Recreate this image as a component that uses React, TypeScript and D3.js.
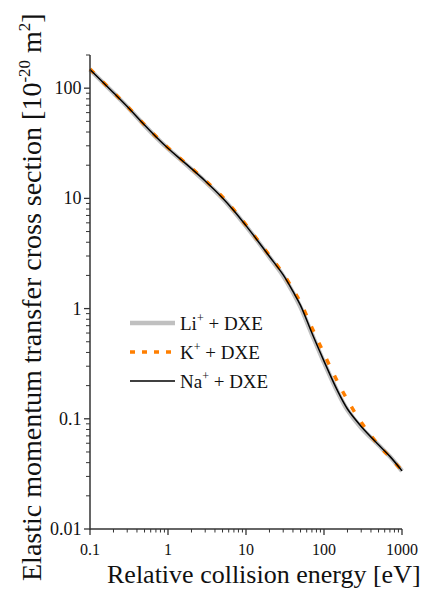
import React from "react";
import * as d3 from "d3";

const energies = [0.1, 0.2, 0.3, 0.5, 0.7, 1, 1.5, 2, 3, 5, 7, 10, 15, 20, 30, 40, 50, 70, 100, 150, 200, 300, 500, 700, 1000];
const liValues = [147, 90.5, 67.8, 46.0, 36.0, 28.3, 22.0, 18.4, 14.2, 10.0, 7.65, 5.6, 3.86, 2.93, 1.98, 1.4, 1.03, 0.585, 0.325, 0.174, 0.12, 0.083, 0.0578, 0.0454, 0.0336];
const kValues = [149, 91.5, 68.6, 46.6, 36.6, 28.8, 22.4, 18.8, 14.6, 10.3, 7.85, 5.75, 3.96, 3.03, 2.07, 1.49, 1.14, 0.67, 0.39, 0.215, 0.148, 0.093, 0.0578, 0.0448, 0.0338];
const naValues = [148, 91, 68.2, 46.3, 36.3, 28.5, 22.2, 18.6, 14.4, 10.1, 7.74, 5.66, 3.9, 2.97, 2.02, 1.43, 1.07, 0.6, 0.334, 0.178, 0.1227, 0.0853, 0.0581, 0.0456, 0.0337];

const xMajor = [0.1, 1, 10, 100, 1000];
const xMajorLabels = ["0.1", "1", "10", "100", "1000"];
const yMajor = [0.01, 0.1, 1, 10, 100];
const yMajorLabels = ["0.01", "0.1", "1", "10", "100"];

const legendItems = [
  { ion: "Li", color: "#c0c0c0", width: 4.5, dash: "" },
  { ion: "K", color: "#ff7f00", width: 3.5, dash: "5,7" },
  { ion: "Na", color: "#000000", width: 1.5, dash: "" },
];

const FONT = "'Liberation Serif'";

export default function App() {
  const W = 422;
  const H = 589;
  const x = d3.scaleLog().domain([0.1, 1000]).range([90, 402]);
  const y = d3.scaleLog().domain([0.01, 200]).range([529, 55]);

  const line = (vals: number[]) =>
    d3
      .line<number>()
      .x((_, i) => x(energies[i]))
      .y((v) => y(v))
      .curve(d3.curveCatmullRom.alpha(0.5))(vals) || "";

  const xMinor: number[] = [];
  for (let e = -1; e < 3; e++) {
    for (let m = 2; m <= 9; m++) xMinor.push(m * Math.pow(10, e));
  }
  const yMinor: number[] = [];
  for (let e = -2; e <= 2; e++) {
    for (let m = 2; m <= 9; m++) {
      const v = m * Math.pow(10, e);
      if (v <= 200.0001) yMinor.push(v);
    }
  }

  const axisColor = "#333";
  const [x0, x1] = x.range();
  const [yb, yt] = y.range();
  const ts = { fontFamily: FONT };

  return (
    <svg width={W} height={H} style={{ position: "absolute", left: 0, top: 0, background: "#fff" }}>
      {/* curves */}
      <path d={line(liValues)} fill="none" stroke="#c0c0c0" strokeWidth={4.5} />
      <path d={line(kValues)} fill="none" stroke="#ff7f00" strokeWidth={3.5} strokeDasharray="6,12" />
      <path d={line(naValues)} fill="none" stroke="#000" strokeWidth={1.5} />

      {/* axes */}
      <line x1={x0} x2={x1} y1={yb} y2={yb} stroke={axisColor} strokeWidth={1.5} />
      <line x1={x0} x2={x0} y1={yb + 0.75} y2={yt} stroke={axisColor} strokeWidth={1.5} />
      {xMajor.map((v) => (
        <line key={"xM" + v} x1={x(v)} x2={x(v)} y1={yb} y2={yb + 6} stroke={axisColor} strokeWidth={1.3} />
      ))}
      {xMinor.map((v) => (
        <line key={"xm" + v} x1={x(v)} x2={x(v)} y1={yb} y2={yb + 3.5} stroke={axisColor} strokeWidth={1} />
      ))}
      {yMajor.map((v) => (
        <line key={"yM" + v} x1={x0 - 6} x2={x0} y1={y(v)} y2={y(v)} stroke={axisColor} strokeWidth={1.3} />
      ))}
      {yMinor.map((v) => (
        <line key={"ym" + v} x1={x0 - 4} x2={x0} y1={y(v)} y2={y(v)} stroke={axisColor} strokeWidth={1} />
      ))}
      {xMajor.map((v, i) => (
        <text key={"xl" + v} style={ts} x={x(v)} y={555} textAnchor="middle" fontSize={16} fill="#111">
          {xMajorLabels[i]}
        </text>
      ))}
      {yMajor.map((v, i) => (
        <text key={"yl" + v} style={ts} x={81.5} y={y(v) + 6} textAnchor="end" fontSize={18} fill="#111">
          {yMajorLabels[i]}
        </text>
      ))}

      {/* axis titles */}
      <text style={ts} x={107} y={583} textAnchor="start" fontSize={26} fill="#111">
        Relative collision energy [eV]
      </text>
      <text style={ts} transform="translate(41,581) rotate(-90)" textAnchor="start" fontSize={28} fill="#111">
        Elastic momentum transfer cross section [10
        <tspan fontSize={17} dy={-11}>-20</tspan>
        <tspan dy={11}> m</tspan>
        <tspan fontSize={17} dy={-11}>2</tspan>
        <tspan dy={11}>]</tspan>
      </text>

      {/* legend */}
      {legendItems.map((it, i) => {
        const ly = 323 + i * 29;
        return (
          <g key={it.ion}>
            <line x1={130} x2={175} y1={ly} y2={ly} stroke={it.color} strokeWidth={it.width} strokeDasharray={it.dash || undefined} />
            <text style={ts} x={180} y={ly + 6.5} fontSize={19} fill="#111">
              {it.ion}
              <tspan fontSize={12} dy={-8}>+</tspan>
              <tspan dy={8}> + DXE</tspan>
            </text>
          </g>
        );
      })}
    </svg>
  );
}
